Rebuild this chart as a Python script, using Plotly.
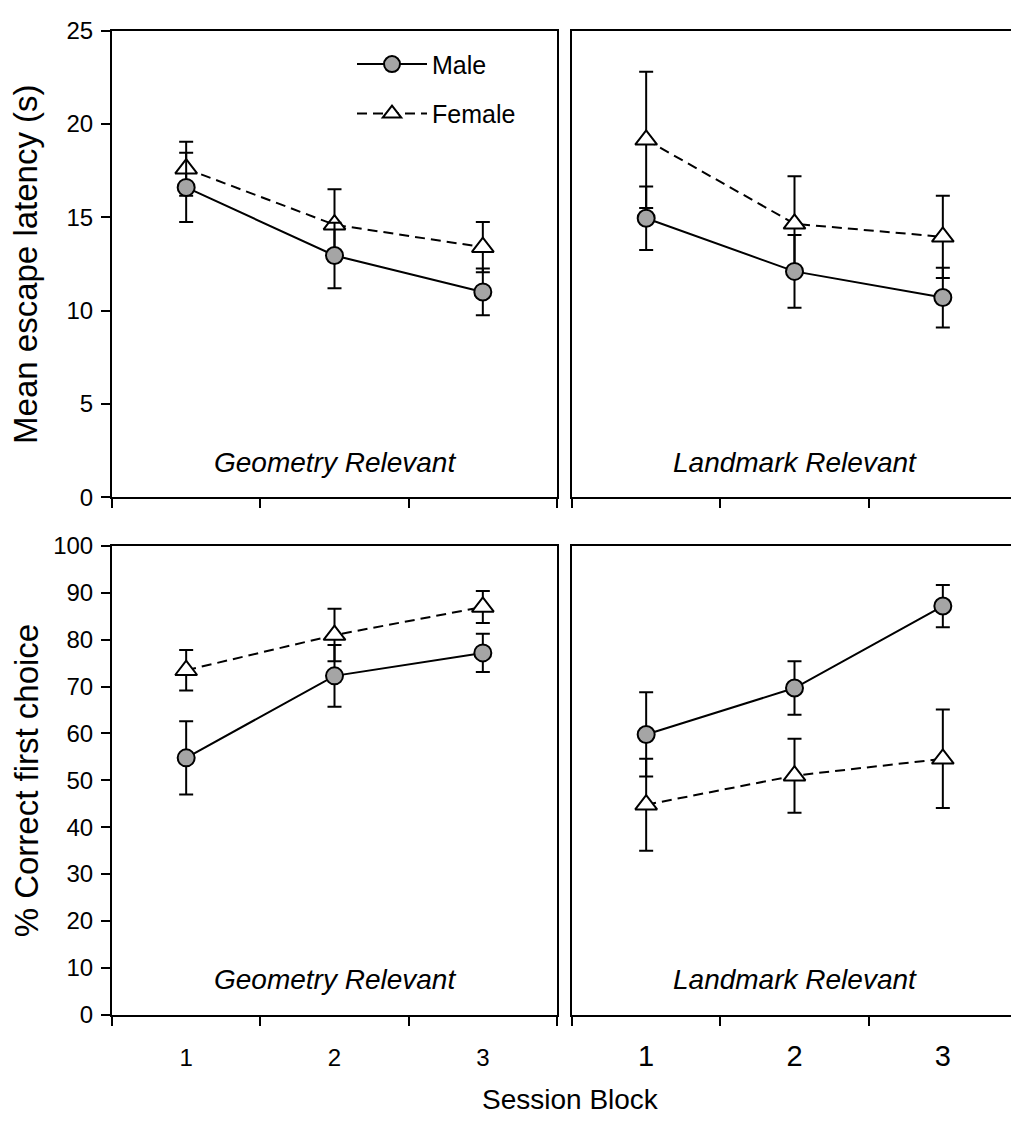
import plotly.graph_objects as go

# ---- data -------------------------------------------------------------
blocks = [1, 2, 3]
block_labels = ["1", "2", "3"]

# Mean escape latency (s), Geometry Relevant
lat_geo_male = [16.6, 12.95, 11.0]
lat_geo_male_se = [1.85, 1.75, 1.25]
lat_geo_female = [17.6, 14.6, 13.4]
lat_geo_female_se = [1.45, 1.9, 1.35]

# Mean escape latency (s), Landmark Relevant
lat_lm_male = [14.95, 12.1, 10.7]
lat_lm_male_se = [1.7, 1.95, 1.6]
lat_lm_female = [19.15, 14.65, 13.95]
lat_lm_female_se = [3.65, 2.55, 2.2]

# % correct first choice, Geometry Relevant
pc_geo_male = [54.8, 72.3, 77.2]
pc_geo_male_se = [7.8, 6.6, 4.1]
pc_geo_female = [73.5, 81.0, 87.0]
pc_geo_female_se = [4.3, 5.6, 3.4]

# % correct first choice, Landmark Relevant
pc_lm_male = [59.8, 69.7, 87.2]
pc_lm_male_se = [9.0, 5.7, 4.5]
pc_lm_female = [44.8, 51.0, 54.6]
pc_lm_female_se = [9.8, 7.9, 10.5]

# ---- layout geometry (pixels) -------------------------------------------
W, H = 1011, 1137
FONT = "Liberation Sans, Arial, sans-serif"

def fx(p):
    return p / W

def fy(p):
    return 1 - p / H

left_dom = [fx(112), fx(557)]
right_dom = [fx(572), 1.0]
top_dom = [fy(495), fy(17)]
bot_dom = [fy(1025), fy(545)]
px_per_block = (557 - 112) / 3.0
right_range = [0.5, 0.5 + (W - 572) / px_per_block]

fig = go.Figure()

panels = [
    ("x", "y", lat_geo_male, lat_geo_male_se, lat_geo_female, lat_geo_female_se, True),
    ("x2", "y2", lat_lm_male, lat_lm_male_se, lat_lm_female, lat_lm_female_se, False),
    ("x3", "y3", pc_geo_male, pc_geo_male_se, pc_geo_female, pc_geo_female_se, False),
    ("x4", "y4", pc_lm_male, pc_lm_male_se, pc_lm_female, pc_lm_female_se, False),
]

for xa, ya, m, m_se, f, f_se, show in panels:
    fig.add_trace(go.Scatter(
        x=blocks, y=f, xaxis=xa, yaxis=ya, name="Female",
        legendgroup="f", showlegend=show, legendrank=2,
        mode="lines+markers",
        line=dict(color="black", width=2, dash="10px,6px"),
        marker=dict(symbol="triangle-up", size=19, color="white",
                    line=dict(color="black", width=2)),
        error_y=dict(type="data", array=f_se, visible=True,
                     color="black", thickness=2, width=7),
    ))
    fig.add_trace(go.Scatter(
        x=blocks, y=m, xaxis=xa, yaxis=ya, name="Male",
        legendgroup="m", showlegend=show, legendrank=1,
        mode="lines+markers",
        line=dict(color="black", width=2),
        marker=dict(symbol="circle", size=17, color="#a5a5a5",
                    line=dict(color="black", width=2)),
        error_y=dict(type="data", array=m_se, visible=True,
                     color="black", thickness=2, width=7),
    ))

line_style = dict(showline=True, linecolor="black", linewidth=2,
                  showgrid=False, zeroline=False)
minor_ticks = dict(tickvals=[0.5, 1.5, 2.5, 3.5], ticks="outside",
                   ticklen=9, tickwidth=2, tickcolor="black")


def x_axis(domain, rng, anchor, labels, size, standoff):
    return dict(
        domain=domain, range=rng, anchor=anchor, mirror=True,
        tickvals=blocks, ticktext=block_labels, ticks="",
        showticklabels=labels, ticklabelstandoff=standoff,
        tickfont=dict(family=FONT, size=size, color="black"),
        minor=minor_ticks, **line_style,
    )


def y_axis(domain, rng, dtick, anchor, labels):
    d = dict(domain=domain, range=rng, anchor=anchor, **line_style)
    if labels:
        d.update(mirror=True, tickvals=list(range(rng[0], rng[1] + 1, dtick)),
                 ticks="outside", ticklen=9, tickwidth=2, tickcolor="black",
                 ticklabelstandoff=3,
                 tickfont=dict(family=FONT, size=24, color="black"))
    else:
        d.update(mirror=False, ticks="", showticklabels=False)
    return d


fig.update_layout(
    width=W, height=H,
    margin=dict(l=0, r=0, t=0, b=0),
    paper_bgcolor="white", plot_bgcolor="white",
    font=dict(family=FONT, color="black"),
    xaxis=x_axis(left_dom, [0.5, 3.5], "y", False, 24, 22),
    xaxis2=x_axis(right_dom, right_range, "y2", False, 24, 22),
    xaxis3=x_axis(left_dom, [0.5, 3.5], "y3", True, 24, 21),
    xaxis4=x_axis(right_dom, right_range, "y4", True, 29, 15),
    yaxis=y_axis(top_dom, [0, 25], 5, "x", True),
    yaxis2=y_axis(top_dom, [0, 25], 5, "x2", False),
    yaxis3=y_axis(bot_dom, [0, 100], 10, "x3", True),
    yaxis4=y_axis(bot_dom, [0, 100], 10, "x4", False),
    showlegend=True,
    legend=dict(x=fx(352), y=fy(28), xanchor="left", yanchor="top",
                bgcolor="rgba(0,0,0,0)", traceorder="grouped",
                tracegroupgap=14, itemwidth=70,
                font=dict(family=FONT, size=25, color="black")),
)

# panel captions
captions = [("x", "y", "Geometry Relevant"), ("x2", "y2", "Landmark Relevant"),
            ("x3", "y3", "Geometry Relevant"), ("x4", "y4", "Landmark Relevant")]
for xa, ya, txt in captions:
    fig.add_annotation(
        x=2, xref=xa, y=0.075, yref=ya + " domain",
        text="<i>" + txt + "</i>", showarrow=False,
        xanchor="center", yanchor="middle",
        font=dict(family=FONT, size=28, color="black"),
    )

# axis titles
fig.add_annotation(x=fx(26), y=(top_dom[0] + top_dom[1]) / 2, xref="paper", yref="paper",
                   text="Mean escape latency (s)", textangle=-90, showarrow=False,
                   xanchor="center", yanchor="middle",
                   font=dict(family=FONT, size=33, color="black"))
fig.add_annotation(x=fx(26), y=(bot_dom[0] + bot_dom[1]) / 2, xref="paper", yref="paper",
                   text="% Correct first choice", textangle=-90, showarrow=False,
                   xanchor="center", yanchor="middle",
                   font=dict(family=FONT, size=33, color="black"))
fig.add_annotation(x=fx(570), y=fy(1112), xref="paper", yref="paper",
                   text="Session Block", showarrow=False,
                   xanchor="center", yanchor="middle",
                   font=dict(family=FONT, size=28, color="black"))

fig.write_html("out.html")
